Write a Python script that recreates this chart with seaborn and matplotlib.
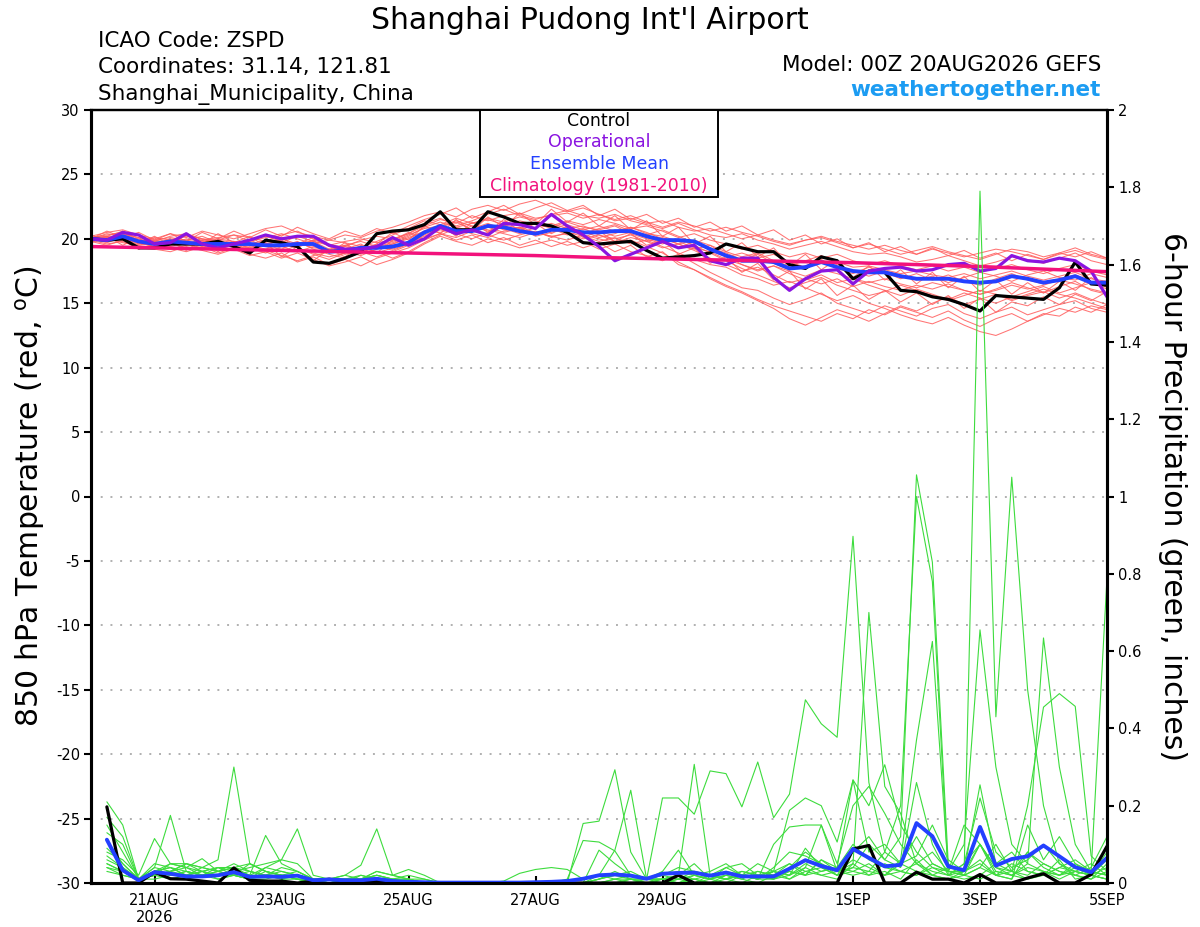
import numpy as np
import pandas as pd
import seaborn as sns
import matplotlib.pyplot as plt
from matplotlib.patches import Rectangle

# 6-hourly forecast times, 00Z 20AUG2026 -> 00Z 5SEP2026
times = pd.date_range('2026-08-20 00:00', '2026-09-05 00:00', freq='6h')
precip_times = times[1:]
clim_days = pd.date_range('2026-08-20', '2026-09-05', freq='D')

tick_dates = pd.to_datetime(['2026-08-21', '2026-08-23', '2026-08-25', '2026-08-27',
                             '2026-08-29', '2026-09-01', '2026-09-03', '2026-09-05'])
tick_labels = ['21AUG\n2026', '23AUG', '25AUG', '27AUG', '29AUG', '1SEP', '3SEP', '5SEP']

# 850 hPa temperature (C)
control_t = [20.0, 19.9, 20.0, 19.3, 19.3, 19.6, 19.6, 19.6, 19.8, 19.4,
             18.9, 19.9, 19.7, 19.4, 18.2, 18.1, 18.5, 19.0, 20.4, 20.6,
             20.7, 21.1, 22.1, 20.7, 20.7, 22.1, 21.7, 21.2, 21.2, 21.0,
             20.5, 19.7, 19.6, 19.7, 19.8, 19.1, 18.5, 18.6, 18.7, 18.9,
             19.6, 19.3, 19.0, 19.0, 18.0, 17.7, 18.6, 18.3, 16.9, 17.5,
             17.4, 16.0, 15.9, 15.5, 15.3, 14.9, 14.4, 15.6, 15.5, 15.4,
             15.3, 16.2, 18.2, 16.5, 16.4]
oper_t = [20.0, 19.9, 20.5, 20.3, 19.6, 19.7, 20.4, 19.6, 19.3, 19.6,
          19.9, 20.3, 20.0, 20.2, 20.2, 19.5, 19.2, 19.2, 19.4, 20.1,
          19.5, 20.0, 20.9, 20.4, 20.7, 20.3, 21.2, 21.1, 20.8, 21.9,
          21.0, 20.3, 19.4, 18.3, 18.8, 19.3, 19.8, 19.3, 19.5, 18.3,
          18.0, 18.5, 18.5, 17.0, 16.0, 16.9, 17.5, 17.6, 16.5, 17.5,
          17.7, 17.8, 17.5, 17.6, 18.0, 18.1, 17.5, 17.7, 18.7, 18.3,
          18.2, 18.5, 18.3, 17.5, 15.5]
mean_t = [20.0, 19.9, 20.2, 19.8, 19.6, 19.8, 19.7, 19.6, 19.6, 19.6,
          19.6, 19.5, 19.5, 19.6, 19.6, 19.0, 19.1, 19.3, 19.3, 19.4,
          19.7, 20.5, 21.0, 20.6, 20.6, 21.0, 20.9, 20.6, 20.4, 20.7,
          20.7, 20.5, 20.5, 20.6, 20.6, 20.2, 19.9, 19.9, 19.8, 19.2,
          18.7, 18.3, 18.3, 18.2, 17.7, 17.8, 18.2, 17.8, 17.5, 17.4,
          17.4, 17.1, 16.9, 16.9, 16.9, 16.7, 16.6, 16.7, 17.1, 16.9,
          16.6, 16.8, 17.1, 16.6, 16.6]
clim_t = [19.4, 19.3, 19.2, 19.1, 19.0, 18.9, 18.8, 18.7, 18.55, 18.45,
          18.35, 18.25, 18.15, 18.0, 17.85, 17.65, 17.45]

# ensemble members, temperature
temp_members = [
    [20.1, 20.3, 20.5, 19.9, 19.8, 20.2, 20.4, 20.0, 19.9, 20.3,
     20.1, 19.8, 20.3, 20.6, 20.0, 19.5, 19.4, 19.9, 20.2, 20.0,
     20.4, 21.2, 21.6, 21.0, 21.4, 21.9, 22.3, 21.8, 21.5, 21.9,
     22.2, 21.8, 21.6, 21.9, 21.4, 21.1, 20.8, 21.2, 20.7, 20.3,
     20.1, 20.4, 19.9, 19.6, 19.2, 19.5, 19.8, 19.4, 19.0, 18.8,
     18.9, 18.6, 18.2, 18.4, 18.7, 18.3, 17.9, 18.2, 18.6, 18.4,
     18.1, 18.5, 18.9, 18.3, 18.0],
    [19.9, 19.6, 19.8, 19.3, 19.2, 19.0, 19.4, 19.1, 18.8, 19.2,
     18.7, 19.0, 18.5, 18.9, 18.4, 17.9, 18.2, 18.6, 18.0, 18.4,
     18.9, 19.6, 20.2, 19.8, 19.5, 20.0, 19.7, 19.3, 19.6, 19.9,
     19.5, 19.8, 19.2, 19.6, 19.0, 18.7, 18.3, 18.8, 18.1, 17.4,
     16.8, 16.2, 16.0, 15.4, 14.9, 15.3, 15.8, 15.0, 14.6, 14.2,
     14.8, 14.4, 14.0, 14.6, 14.9, 14.2, 13.8, 14.3, 14.7, 14.1,
     14.5, 14.9, 15.2, 14.6, 14.3],
    [20.0, 20.2, 19.9, 20.3, 19.8, 19.5, 19.9, 20.2, 19.7, 19.4,
     19.9, 20.3, 20.0, 19.6, 20.1, 19.4, 19.0, 18.7, 19.2, 19.6,
     20.1, 20.6, 20.9, 20.3, 20.8, 21.2, 20.7, 20.9, 20.2, 20.5,
     20.9, 20.4, 20.8, 21.1, 20.6, 20.3, 20.7, 20.2, 19.7, 19.3,
     18.9, 18.4, 18.8, 18.1, 17.6, 17.9, 18.4, 17.7, 17.3, 17.8,
     17.4, 16.9, 17.3, 16.8, 17.2, 16.7, 16.4, 16.9, 17.3, 16.8,
     16.5, 16.9, 17.2, 16.7, 16.4],
    [19.8, 20.0, 20.4, 19.7, 19.4, 19.9, 19.6, 19.3, 19.8, 19.5,
     19.2, 19.6, 19.9, 19.3, 18.8, 18.4, 18.9, 19.3, 19.0, 18.5,
     19.0, 19.7, 20.3, 20.8, 20.4, 20.1, 20.6, 20.9, 20.5, 20.2,
     20.4, 20.0, 20.3, 19.8, 19.9, 19.4, 18.9, 18.2, 17.6, 16.9,
     16.3, 15.8, 15.2, 14.6, 13.8, 13.3, 13.9, 14.5, 14.1, 13.6,
     14.2, 14.8, 14.4, 15.0, 15.5, 14.9, 15.3, 15.7, 15.2, 15.6,
     15.9, 15.4, 15.8, 15.3, 14.9],
    [20.2, 20.5, 20.7, 20.3, 20.0, 20.4, 20.1, 20.6, 20.3, 20.0,
     20.4, 20.8, 21.0, 20.5, 20.2, 19.9, 20.3, 20.1, 20.6, 20.9,
     21.3, 21.8, 22.1, 21.7, 22.3, 22.6, 22.2, 22.7, 23.0, 22.5,
     22.1, 22.4, 21.9, 21.5, 21.8, 21.3, 20.9, 21.3, 21.0, 20.6,
     20.9, 20.5, 20.2, 19.8, 19.5, 19.9, 20.1, 19.7, 19.3, 19.6,
     19.2, 18.8, 19.1, 19.4, 19.0, 18.7, 18.4, 18.8, 19.2, 19.0,
     18.6, 18.9, 19.3, 18.8, 18.5],
    [20.0, 19.7, 20.1, 19.6, 19.9, 19.7, 19.3, 19.5, 19.9, 19.7,
     19.3, 18.9, 19.4, 19.8, 19.2, 18.8, 18.5, 18.9, 19.5, 19.1,
     19.6, 20.2, 20.7, 20.4, 20.0, 20.5, 21.0, 20.6, 20.3, 20.8,
     20.3, 20.6, 20.1, 20.4, 20.9, 20.5, 20.0, 19.6, 19.9, 19.5,
     18.7, 18.0, 17.6, 17.9, 17.3, 16.8, 17.2, 16.6, 16.9, 16.4,
     16.0, 15.6, 16.1, 15.7, 15.3, 15.8, 15.4, 15.0, 15.5, 15.9,
     16.3, 15.8, 16.2, 16.6, 16.1],
    [20.1, 20.0, 20.3, 19.9, 19.6, 20.0, 19.8, 19.4, 19.2, 19.6,
     19.9, 19.4, 19.0, 19.5, 19.9, 19.6, 19.2, 19.6, 18.9, 19.3,
     19.8, 20.4, 20.9, 21.3, 20.7, 21.1, 20.8, 20.4, 20.9, 21.2,
     20.8, 21.0, 20.6, 20.2, 20.5, 20.1, 19.7, 19.3, 19.8, 19.1,
     18.6, 18.9, 18.5, 18.8, 18.2, 17.8, 18.3, 18.0, 17.5, 17.1,
     17.5, 17.2, 16.8, 17.1, 16.6, 17.0, 17.4, 17.1, 16.7, 17.2,
     17.5, 17.0, 16.8, 17.3, 17.0],
    [19.9, 20.1, 19.7, 19.5, 19.8, 19.6, 20.0, 19.8, 19.5, 19.1,
     19.4, 19.1, 18.7, 18.3, 18.7, 19.0, 19.4, 19.0, 18.6, 19.0,
     19.5, 20.0, 20.4, 20.1, 20.6, 20.3, 19.9, 20.3, 20.6, 20.1,
     20.5, 20.2, 19.8, 20.1, 19.6, 19.9, 19.4, 18.9, 18.4, 18.0,
     17.8, 17.2, 16.9, 16.4, 16.7, 16.2, 15.7, 15.2, 15.6, 15.0,
     14.6, 14.1, 13.7, 13.4, 13.9, 13.3, 12.8, 12.5, 13.0, 13.6,
     14.1, 14.6, 14.3, 14.8, 14.5],
    [20.0, 20.4, 20.2, 19.8, 20.1, 19.9, 20.2, 19.9, 20.1, 20.3,
     19.8, 20.1, 20.4, 20.0, 19.6, 19.9, 19.7, 19.4, 19.8, 20.3,
     20.8, 21.4, 21.1, 21.6, 21.2, 21.6, 21.3, 21.7, 21.4, 21.0,
     21.4, 21.1, 21.5, 21.2, 20.8, 21.0, 20.6, 20.1, 20.4, 19.9,
     19.6, 19.2, 19.5, 19.0, 18.6, 18.9, 18.5, 18.8, 18.3, 18.0,
     18.3, 17.9, 17.6, 17.9, 17.5, 17.8, 17.4, 17.7, 18.0, 17.6,
     17.3, 17.7, 18.0, 17.5, 17.2],
    [19.9, 19.8, 20.0, 19.7, 19.4, 19.2, 19.5, 19.7, 19.4, 19.8,
     19.5, 19.2, 19.6, 19.3, 18.9, 18.6, 18.9, 19.2, 19.6, 19.2,
     19.6, 20.3, 20.8, 20.5, 21.0, 20.7, 20.4, 20.1, 20.5, 20.2,
     19.9, 20.3, 20.0, 19.7, 20.1, 19.8, 19.3, 19.6, 19.1, 18.5,
     18.0, 17.5, 17.8, 17.2, 16.6, 16.9, 16.5, 16.9, 16.3, 16.7,
     16.3, 16.0, 16.4, 16.1, 16.5, 16.0, 15.7, 16.1, 16.6, 16.2,
     15.8, 16.3, 16.7, 16.0, 15.7],
    [20.1, 20.2, 20.6, 20.0, 19.7, 19.9, 20.3, 20.0, 19.7, 19.5,
     19.9, 20.2, 19.8, 19.4, 19.8, 19.2, 19.5, 19.8, 19.4, 19.7,
     20.2, 20.9, 21.3, 20.9, 21.2, 21.5, 21.1, 20.8, 21.2, 20.8,
     21.1, 20.7, 21.0, 20.6, 20.9, 20.4, 20.2, 19.8, 19.3, 19.0,
     18.4, 18.0, 17.5, 17.9, 17.5, 17.1, 17.6, 17.3, 16.9, 16.6,
     16.9, 16.5, 16.2, 16.6, 16.3, 16.0, 15.7, 16.0, 16.4, 16.1,
     16.4, 16.8, 16.5, 16.1, 15.8],
    [20.0, 19.8, 20.3, 19.8, 19.5, 19.8, 19.6, 19.9, 19.8, 19.4,
     19.1, 19.5, 19.2, 19.7, 19.3, 19.2, 18.8, 19.1, 19.5, 19.8,
     20.3, 20.8, 21.0, 21.4, 21.0, 20.6, 21.0, 21.4, 21.1, 20.9,
     21.3, 20.9, 20.7, 21.0, 20.4, 20.0, 19.6, 20.0, 19.5, 18.9,
     18.3, 17.7, 17.2, 16.7, 16.2, 16.6, 17.0, 16.4, 16.0, 15.6,
     15.9, 16.4, 16.0, 15.6, 15.2, 15.6, 16.0, 15.7, 15.3, 15.7,
     16.1, 15.7, 15.4, 15.0, 14.6],
    [20.1, 20.1, 20.4, 20.1, 19.9, 20.1, 19.9, 19.7, 20.0, 19.8,
     19.6, 19.9, 19.7, 20.2, 19.8, 19.5, 19.8, 20.0, 19.7, 19.9,
     20.4, 21.0, 21.5, 21.2, 21.8, 21.4, 21.8, 22.0, 21.6, 21.8,
     22.0, 21.6, 21.9, 21.4, 21.6, 21.2, 21.4, 20.9, 20.6, 20.8,
     20.4, 20.0, 20.3, 19.9, 19.6, 19.9, 20.2, 19.8, 19.5, 19.2,
     19.5, 19.1, 18.8, 19.2, 18.9, 18.6, 18.9, 19.2, 19.0, 18.7,
     18.4, 18.8, 19.1, 18.7, 18.4],
    [19.9, 19.9, 20.1, 19.5, 19.6, 19.4, 19.7, 19.5, 19.3, 19.6,
     19.3, 19.7, 19.4, 19.0, 19.4, 19.1, 19.5, 19.1, 19.3, 19.6,
     20.0, 20.6, 20.5, 20.9, 20.6, 20.9, 20.5, 20.8, 20.3, 20.7,
     20.5, 20.8, 20.3, 20.0, 20.3, 19.8, 20.1, 19.6, 19.2, 19.5,
     19.0, 18.6, 18.9, 18.3, 17.9, 18.3, 18.7, 18.2, 17.8, 17.9,
     17.6, 17.3, 17.5, 17.2, 17.0, 17.3, 16.9, 17.2, 17.5, 17.1,
     16.8, 17.1, 17.4, 16.9, 16.7],
    [20.3, 19.8, 20.6, 19.6, 20.2, 19.5, 20.3, 19.6, 20.4, 19.7,
     20.2, 19.4, 20.1, 19.3, 19.9, 18.9, 19.7, 18.8, 19.6, 20.5,
     19.9, 21.0, 20.4, 21.5, 20.6, 21.7, 20.9, 22.0, 21.1, 22.3,
     21.3, 22.0, 21.0, 21.8, 20.7, 21.4, 20.2, 20.9, 19.6, 20.2,
     19.0, 19.7, 18.6, 19.3, 17.9, 18.8, 17.6, 18.4, 17.0, 17.9,
     16.8, 17.6, 16.5, 17.4, 16.2, 17.1, 15.9, 16.8, 15.7, 16.6,
     15.8, 16.7, 16.0, 17.0, 16.2],
    [19.7, 20.2, 19.5, 20.1, 19.3, 19.8, 19.1, 19.9, 19.0, 19.8,
     18.9, 19.7, 18.6, 19.4, 18.3, 19.2, 18.6, 19.5, 18.9, 19.9,
     20.5, 19.9, 21.1, 20.2, 21.3, 20.5, 21.5, 20.6, 21.2, 20.4,
     21.0, 20.1, 20.6, 19.8, 20.4, 19.5, 19.9, 18.8, 19.3, 18.1,
     18.6, 17.4, 18.1, 16.8, 17.5, 16.1, 16.9, 15.6, 16.4, 15.3,
     16.0, 15.1, 15.8, 14.9, 15.6, 14.6, 15.4, 14.3, 15.1, 14.8,
     15.5, 14.9, 15.7, 15.2, 15.9],
    [20.0, 20.6, 20.1, 20.5, 19.9, 20.4, 19.8, 20.5, 20.0, 20.6,
     20.1, 20.7, 20.2, 20.9, 20.4, 20.0, 20.6, 20.2, 20.8, 20.4,
     21.0, 21.5, 21.9, 22.4, 21.6, 22.1, 22.6, 21.9, 22.4, 22.8,
     22.2, 22.6, 21.8, 22.3, 21.5, 21.9, 21.2, 21.6, 20.9, 21.3,
     20.6, 21.0, 20.3, 20.7, 19.9, 20.3, 19.6, 20.0, 19.3, 19.7,
     19.0, 19.4, 18.8, 19.3, 18.7, 19.1, 18.5, 18.9, 18.3, 18.8,
     18.4, 18.9, 18.6, 19.0, 18.5],
    [19.8, 19.5, 19.9, 19.2, 19.6, 19.3, 19.0, 19.4, 18.9, 19.3,
     18.8, 18.5, 18.9, 18.2, 18.6, 18.0, 18.4, 17.9, 18.5, 18.9,
     19.3, 19.9, 20.4, 19.9, 20.3, 19.7, 20.1, 19.5, 19.9, 19.4,
     19.8, 19.3, 19.7, 19.0, 19.5, 18.6, 19.0, 18.0, 17.6, 17.0,
     16.4, 15.9, 15.3, 14.8, 14.4, 14.0, 13.6, 14.2, 13.8, 14.5,
     14.1, 14.7, 14.3, 13.9, 14.4, 13.7, 13.2, 13.8, 14.2, 13.6,
     14.2, 14.0, 14.7, 14.3, 14.9],
]

# 6-hour precipitation (inches), valid 06Z 20AUG -> 00Z 5SEP
control_p = [0.197, 0, 0, 0.028, 0.011, 0.01, 0.005, 0, 0.039, 0.007, 0.005, 0.005, 0, 0.005, 0.01, 0.005,
             0, 0.005, 0, 0, 0, 0, 0, 0, 0, 0, 0, 0, 0, 0, 0, 0,
             0, 0, 0, 0, 0.02, 0, 0, 0, 0, 0, 0, 0, 0, 0, 0, 0.088,
             0.097, 0, 0, 0.028, 0.01, 0.01, 0, 0.022, 0, 0, 0.013, 0.024, 0, 0, 0.022, 0.095]
mean_p = [0.112, 0.033, 0.007, 0.028, 0.024, 0.017, 0.017, 0.02, 0.028, 0.016, 0.017, 0.016, 0.019, 0.007, 0.009, 0.007,
          0.007, 0.011, 0.005, 0.003, 0.002, 0.001, 0.001, 0.001, 0.001, 0.001, 0.001, 0.002, 0.003, 0.005, 0.011, 0.02,
          0.022, 0.019, 0.011, 0.024, 0.026, 0.027, 0.019, 0.027, 0.017, 0.017, 0.017, 0.037, 0.059, 0.044, 0.033, 0.088,
          0.065, 0.043, 0.047, 0.155, 0.121, 0.043, 0.033, 0.145, 0.045, 0.062, 0.069, 0.097, 0.069, 0.041, 0.028, 0.065]

precip_members = [
    [.21, .15, .01, .03, .04, .03, .02, .02, .03, .02, .02, .03, .02, .01, .01, .01,
     .01, .02, .01, .01, 0, 0, 0, 0, 0, 0, 0, 0, 0, 0, .154, .16,
     .293, .08, .01, .02, .03, .02, .01, .04, .02, .01, .03, .05, .02, .06, .04, .267,
     .2, .306, .15, .08, .04, .02, .03, .254, .05, .08, .03, .02, .04, .06, .03, .02],
    [.13, .10, .01, .05, .04, .02, .03, .01, .02, .01, .01, .02, .01, 0, 0, .01,
     0, .01, 0, 0, 0, 0, 0, 0, 0, 0, 0, 0, 0, 0, 0, .02,
     .01, .02, .01, .22, .22, .178, .29, .283, .197, .313, .169, .23, .474, .412, .377, .897,
     .26, .08, .05, .12, .05, .03, .02, .04, .10, .03, .02, .05, .03, .02, .01, .03],
    [.09, .05, .01, .02, .03, .05, .04, .06, .30, .05, .03, .02, .02, .01, 0, 0,
     .01, .01, 0, 0, 0, 0, 0, 0, 0, 0, 0, 0, 0, 0, 0, .01,
     .02, .01, 0, 0, .01, .02, .01, .02, .03, .02, .01, .04, .08, .05, .03, .05,
     .70, .25, .18, .05, .02, .01, .03, .05, .02, .01, .08, .05, .03, .02, .01, .05],
    [.08, .06, .02, .115, .05, .04, .03, .02, .02, .01, .04, .06, .05, .01, 0, .01,
     .01, .03, .02, .01, 0, 0, 0, 0, 0, 0, 0, 0, 0, 0, 0, 0,
     0, .01, .01, 0, 0, 0, .01, 0, .02, .01, .04, .08, .07, .05, .02, .04,
     .10, .06, .12, 1.056, .83, .05, .02, .01, .03, .02, .01, .03, .02, .04, .02, .01],
    [.17, .12, .01, .04, .175, .03, .02, .04, .04, .03, .02, .02, .03, .01, .01, 0,
     .02, .01, .01, 0, 0, 0, 0, 0, 0, 0, 0, 0, 0, 0, 0, .01,
     .02, .03, .01, .02, .04, .03, .02, .01, .02, .05, .03, .188, .22, .20, .106, .266,
     .08, .10, .05, .07, .15, .06, .03, .10, .04, .02, .05, .03, .02, .03, .05, .02],
    [.05, .03, .01, .02, .03, .04, .063, .03, .02, .05, .03, .02, .01, .01, 0, .01,
     .01, .01, .01, .02, .01, 0, 0, 0, 0, 0, 0, 0, 0, 0, 0, 0,
     0, 0, 0, 0, 0, .01, .02, .01, 0, .02, .03, .01, .04, .15, .03, .02,
     .03, .08, .20, 1.0, .78, .02, .01, .02, .05, .03, .01, .02, .04, .03, .02, .01],
    [.06, .04, .01, .03, .02, .03, .02, .03, .05, .03, .02, .01, .02, .01, .01, .01,
     0, .01, 0, 0, 0, 0, 0, 0, 0, 0, 0, 0, 0, 0, 0, 0,
     .01, .01, 0, .01, .02, .01, 0, .01, .02, .01, .03, .02, .04, .02, .03, .06,
     .04, .02, .03, .05, .08, .03, .03, 1.79, .43, 1.05, .50, .20, .05, .03, .02, .04],
    [.04, .03, .01, .02, .05, .05, .04, .03, .04, .02, .123, .05, .03, .01, .01, .02,
     .046, .14, .02, .035, .02, 0, 0, 0, 0, 0, 0, 0, 0, 0, 0, 0,
     0, 0, .01, .01, 0, .02, .01, .03, .02, .03, .02, .05, .03, .04, .02, .03,
     .05, .02, .06, .37, .625, .03, .10, .655, .30, .10, .05, .634, .30, .10, .03, .02],
    [.11, .05, .01, .03, .04, .02, .03, .02, .03, .04, .05, .06, .14, .02, .01, .01,
     .02, .01, 0, .01, 0, 0, 0, 0, 0, .005, .025, .035, .04, .035, .01, .02,
     .085, .24, .01, .01, .02, .307, .02, .01, .03, .02, .01, .02, .05, .03, .04, .10,
     .06, .04, .03, .02, .05, .03, .02, .10, .04, .03, .20, .455, .49, .457, .07, .03],
    [.03, .02, .01, .02, .01, .02, .03, .04, .03, .02, .04, .03, .02, .01, .01, 0,
     .01, .02, .01, 0, 0, 0, 0, 0, 0, 0, 0, 0, 0, .01, .11, .106,
     .083, .02, .01, .01, .02, .05, .01, .02, .01, .03, .02, .03, .02, .06, .03, .04,
     .03, .02, .05, .03, .02, .04, .03, .06, .02, .03, .08, .04, .02, .05, .03, .79],
    [.07, .04, .01, .04, .03, .05, .03, .04, .02, .03, .02, .04, .03, .01, .01, .01,
     .01, .02, .01, .01, 0, 0, 0, 0, 0, 0, 0, 0, 0, 0, 0, .085,
     .05, .02, .01, .03, .085, .02, .03, .05, .02, .01, .10, .145, .15, .15, .05, .20,
     .25, .18, .10, .05, .03, .02, .05, .10, .02, .01, .15, .06, .12, .05, .02, .01],
    [.05, .03, .01, .01, .02, .03, .02, .01, .02, .01, .02, .01, .01, 0, 0, 0,
     .01, .01, 0, 0, 0, 0, 0, 0, 0, 0, 0, 0, 0, 0, 0, 0,
     .01, 0, 0, .01, 0, .01, 0, .02, .01, 0, .02, .01, .03, .02, .01, .05,
     .02, .03, .01, .06, .02, .01, .02, .04, .02, .05, .03, .02, .06, .01, .02, .08],
    [.15, .08, .01, .03, .05, .04, .02, .03, .04, .05, .03, .02, .01, .01, .01, .02,
     .01, .03, .02, .01, .01, 0, 0, 0, 0, 0, 0, 0, 0, 0, 0, .01,
     .03, .01, .01, .02, .01, .03, .02, .04, .05, .02, .03, .02, .09, .04, .02, .08,
     .12, .06, .04, .26, .10, .02, .05, .22, .08, .04, .06, .10, .05, .02, .04, .12],
    [.04, .02, .01, .02, .03, .02, .04, .03, .02, .01, .03, .02, .01, 0, .01, .01,
     0, .01, 0, 0, 0, 0, 0, 0, 0, 0, 0, 0, 0, 0, 0, 0,
     0, .01, 0, 0, .01, 0, .02, .01, .02, .01, .01, .03, .02, .03, .04, .03,
     .02, .05, .03, .02, .04, .03, .15, .10, .03, .02, .04, .03, .01, .03, .02, .06],
]

RED = '#ff5c5c'
GREEN = '#3ddc3d'
PURPLE = '#8a14e0'
BLUE = '#2340ff'
PINK = '#f2127c'

sns.set_theme(style='white')
plt.rcParams['font.family'] = ['DejaVu Sans']
plt.rcParams['text.color'] = 'black'
plt.rcParams['axes.unicode_minus'] = False

fig = plt.figure(figsize=(12, 9.27), dpi=100)
ax = fig.add_axes([91 / 1200, 44 / 927, 1016 / 1200, 773 / 927])
ax2 = ax.twinx()

# long tables for the ensemble members
temp_df = pd.DataFrame({
    'time': np.tile(times, len(temp_members)),
    'member': np.repeat(np.arange(len(temp_members)), len(times)),
    'temp': np.concatenate(temp_members),
})
precip_df = pd.DataFrame({
    'time': np.tile(precip_times, len(precip_members)),
    'member': np.repeat(np.arange(len(precip_members)), len(precip_times)),
    'precip': np.concatenate(precip_members),
})

# temperature panel
sns.lineplot(data=temp_df, x='time', y='temp', units='member', estimator=None,
             color=RED, lw=0.75, alpha=0.85, ax=ax, legend=False)
sns.lineplot(x=times, y=control_t, color='black', lw=2.3, ax=ax)
sns.lineplot(x=times, y=mean_t, color=BLUE, lw=2.8, ax=ax)
sns.lineplot(x=times, y=oper_t, color=PURPLE, lw=2.3, ax=ax)
sns.lineplot(x=clim_days, y=clim_t, color=PINK, lw=2.5, ax=ax)

# precipitation panel
sns.lineplot(data=precip_df, x='time', y='precip', units='member', estimator=None,
             color=GREEN, lw=0.8, ax=ax2, legend=False)
sns.lineplot(x=precip_times, y=control_p, color='black', lw=2.3, ax=ax2)
sns.lineplot(x=precip_times, y=mean_p, color=BLUE, lw=2.8, ax=ax2)

ax.set_xlim(times[0], times[-1])
ax.set_ylim(-30, 30)
ax.set_yticks(range(-30, 31, 5))
ax2.set_ylim(0, 2)
p_ticks = np.round(np.arange(0, 2.01, 0.2), 1)
ax2.set_yticks(p_ticks)
ax2.set_yticklabels([f'{v:g}' for v in p_ticks])
ax.set_xticks(tick_dates)
ax.set_xticklabels(tick_labels)
for a in (ax, ax2):
    a.set_xlabel('')
    a.set_ylabel('')

ax.grid(axis='y', ls=(0, (1, 4)), color='#b0b0b0', lw=1.4)
ax.grid(axis='x', visible=False)
ax2.grid(False)

for a in (ax, ax2):
    for s in a.spines.values():
        s.set_color('black')
        s.set_linewidth(2.2)
    a.spines['top'].set_linewidth(1.6)

ax.tick_params(axis='y', direction='out', length=5, width=1.5, colors='black',
               labelsize=10.5, pad=3, left=True)
ax.tick_params(axis='x', direction='in', length=5, width=1.5, colors='black',
               labelsize=10.5, pad=7, bottom=True)
ax2.tick_params(axis='y', direction='out', length=5, width=1.5, colors='black',
                labelsize=10.5, pad=3, right=True)

# header texts
fig.text(590 / 1200, 1 - 29 / 927, "Shanghai Pudong Int'l Airport",
         ha='center', va='baseline', fontsize=21.5, color='black')
fig.text(98 / 1200, 1 - 47 / 927, 'ICAO Code: ZSPD', ha='left', va='baseline', fontsize=15.5)
fig.text(98 / 1200, 1 - 73 / 927, 'Coordinates: 31.14, 121.81', ha='left', va='baseline', fontsize=15.5)
fig.text(98 / 1200, 1 - 100 / 927, 'Shanghai_Municipality, China', ha='left', va='baseline', fontsize=15.5)
fig.text(1101 / 1200, 1 - 71 / 927, 'Model: 00Z 20AUG2026 GEFS', ha='right', va='baseline', fontsize=15.5)
fig.text(1101 / 1200, 1 - 96 / 927, 'weathertogether.net', ha='right', va='baseline',
         fontsize=15.5, fontweight='bold', color='#1c9cf2')

# axis titles
fig.text(30 / 1200, 1 - 496 / 927, '850 hPa Temperature (red, $^\\mathrm{o}$C)',
         rotation=90, ha='center', va='center', fontsize=21.5)
fig.text(1172 / 1200, 1 - 496 / 927, '6-hour Precipitation (green, inches)',
         rotation=270, ha='center', va='center', fontsize=21.5)

# legend box
fig.add_artist(Rectangle((480 / 1200, 1 - 197 / 927), 238 / 1200, 87 / 927,
                         transform=fig.transFigure, facecolor='white',
                         edgecolor='black', lw=1.4, zorder=5))
legend_items = [('Control', 'black', 121), ('Operational', PURPLE, 142),
                ('Ensemble Mean', BLUE, 164), ('Climatology (1981-2010)', PINK, 186)]
for label, col, ypix in legend_items:
    fig.text(599 / 1200, 1 - ypix / 927, label, ha='center', va='center',
             fontsize=12.5, color=col, zorder=6)

fig.savefig('out.png', dpi=100)
